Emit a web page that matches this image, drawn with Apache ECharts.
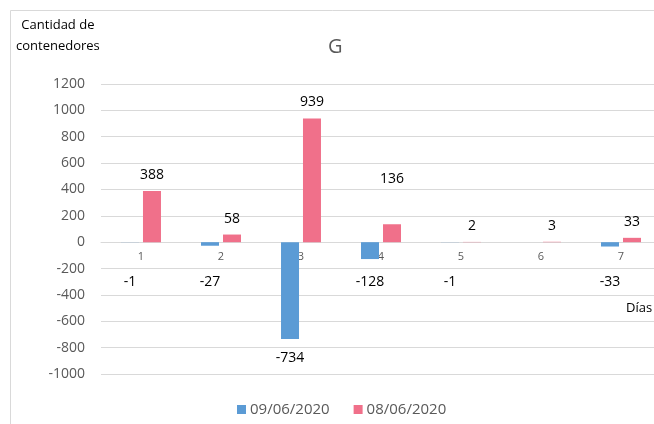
<!DOCTYPE html>
<html>
<head>
<meta charset="utf-8">
<script src="https://cdn.jsdelivr.net/npm/echarts@6/dist/echarts.min.js"></script>
<style>html,body{margin:0;padding:0;background:#fff}#c{width:654px;height:424px}</style>
</head>
<body>
<div id="c"></div>
<script>
const categories = ['1', '2', '3', '4', '5', '6', '7'];
const serie0906 = [-1, -27, -734, -128, -1, null, -33];
const serie0806 = [388, 58, 939, 136, 2, 3, 33];
const seriesNames = ['09/06/2020', '08/06/2020'];
const yTicks = { min: -1000, max: 1200, interval: 200 };

const FONT = 'Open Sans';
const TXT = '#595959';
const GRID = '#d9d9d9';
const BLUE = '#5b9bd5';
const PINK = '#f0708a';

const chart = echarts.init(document.getElementById('c'), null, { renderer: 'canvas' });

function buildOption(blueData, pinkData, xOffset) {
  return {
    animation: false,
    backgroundColor: '#fff',
    textStyle: { fontFamily: FONT },
    title: {
      text: 'G', left: 323, top: 32,
      textStyle: { fontFamily: FONT, fontSize: 20, fontWeight: 'normal', color: TXT }
    },
    legend: {
      left: 232, bottom: 2, icon: 'rect', itemWidth: 9, itemHeight: 9, itemGap: 24,
      textStyle: { fontFamily: FONT, fontSize: 15, color: TXT, padding: [0, 0, 0, -1] },
      data: seriesNames
    },
    grid: { left: 101, top: 84, width: 560, height: 290, containLabel: false,
            outerBoundsMode: 'none' },
    xAxis: {
      type: 'category', data: categories, position: 'bottom', offset: xOffset,
      axisLine: { show: true, onZero: false, lineStyle: { color: GRID, width: 1 } },
      axisTick: { show: false },
      axisLabel: { color: TXT, fontFamily: FONT, fontSize: 11, margin: 9 },
      splitLine: { show: false }
    },
    yAxis: {
      type: 'value', min: yTicks.min, max: yTicks.max, interval: yTicks.interval,
      axisLine: { show: false }, axisTick: { show: false },
      axisLabel: { color: TXT, fontFamily: FONT, fontSize: 14, margin: 16,
                   formatter: v => String(v) },
      splitLine: { lineStyle: { color: GRID, width: 1 } }
    },
    graphic: [
      { type: 'rect', z: -1, silent: true,
        shape: { x: 10.5, y: 10.5, width: 800, height: 600 },
        style: { fill: 'none', stroke: GRID, lineWidth: 1 } },
      { type: 'text', left: 16, top: 15, silent: true,
        style: { text: 'Cantidad de\ncontenedores', fill: '#000', font: '13px "Open Sans"',
                 textAlign: 'center', lineHeight: 21 } },
      { type: 'text', left: 626, top: 302, silent: true,
        style: { text: 'Días', fill: '#000', font: '13px "Open Sans"' } }
    ],
    series: [
      { name: seriesNames[0], type: 'bar', data: blueData, barWidth: 18, barGap: '22%',
        itemStyle: { color: BLUE },
        label: { show: true, position: 'bottom', distance: 12, color: '#000',
                 fontFamily: FONT, fontSize: 14 } },
      { name: seriesNames[1], type: 'bar', data: pinkData, barWidth: 18, barGap: '22%',
        itemStyle: { color: PINK },
        label: { show: true, position: 'top', distance: 9, color: '#000',
                 fontFamily: FONT, fontSize: 14 } }
    ]
  };
}

chart.setOption(buildOption(serie0906, serie0806, 0));

// move category axis (line + labels) onto the zero line, and place labels Excel-like
const zeroY = chart.convertToPixel({ yAxisIndex: 0 }, 0);
const bottomY = chart.convertToPixel({ yAxisIndex: 0 }, yTicks.min);
const blueItems = serie0906.map(v => {
  if (v == null) return v;
  const endY = chart.convertToPixel({ yAxisIndex: 0 }, v);
  return { value: v, label: { distance: Math.max(12, zeroY + 33 - endY) } };
});
const pinkExtraLift = { 3: 29 };
const pinkItems = serie0806.map((v, i) => ({ value: v, label: { distance: 9 + (pinkExtraLift[i] || 0) } }));
chart.setOption(buildOption(blueItems, pinkItems, zeroY - bottomY));
</script>
</body>
</html>
